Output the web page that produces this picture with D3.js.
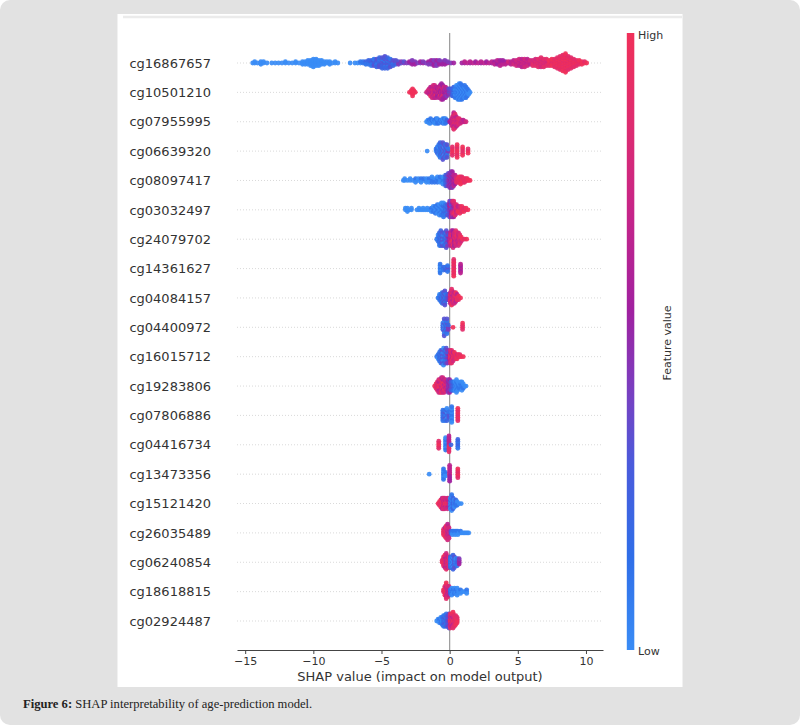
<!DOCTYPE html>
<html>
<head>
<meta charset="utf-8">
<script src="https://cdn.jsdelivr.net/npm/d3@7"></script>
<style>
  body { margin: 0; background: #fff; }
  text { font-family: "DejaVu Sans", sans-serif; fill: #333; }
  .caption { font-family: "Liberation Serif", serif; fill: #222; }
</style>
</head>
<body>
<svg id="chart"></svg>
<script>
// feature names, top to bottom
const features = [
  'cg16867657', 'cg10501210', 'cg07955995', 'cg06639320', 'cg08097417',
  'cg03032497', 'cg24079702', 'cg14361627', 'cg04084157', 'cg04400972',
  'cg16015712', 'cg19283806', 'cg07806886', 'cg04416734', 'cg13473356',
  'cg15121420', 'cg26035489', 'cg06240854', 'cg18618815', 'cg02924487'
];

// each entry: [SHAP value, feature values of the stacked points (digit 0..9 = low..high)]
const cg16867657 = [
  [-14.45, '0'], [-14.3, '00'], [-14.1, '0'], [-13.85, '000'], [-13.65, '00'], [-13.4, '0'],
  [-13.05, '0'], [-12.8, '0'], [-12.55, '0'], [-12.3, '0'], [-12.05, '00'], [-11.8, '0'],
  [-11.55, '0'], [-11.3, '00'], [-11.05, '0'], [-10.8, '000'], [-10.6, '000'], [-10.4, '0000'],
  [-10.2, '00000'], [-10.0, '0000000'], [-9.8, '000000'], [-9.6, '00000'], [-9.4, '0000'],
  [-9.2, '000'], [-9.0, '00'], [-8.8, '000'], [-8.6, '0'], [-8.4, '00'], [-8.2, '0'],
  [-7.3, '0'],
  [-6.95, '0'], [-6.75, '0'], [-6.55, '01'], [-6.35, '11'], [-6.15, '121'], [-5.95, '2112'],
  [-5.75, '23121'], [-5.55, '132231'], [-5.35, '2312132'], [-5.15, '31223132'],
  [-4.95, '213321232'], [-4.75, '3221331223'], [-4.55, '232133122'], [-4.35, '3123213'],
  [-4.15, '23132'], [-3.95, '3423'], [-3.75, '434'], [-3.55, '34'], [-3.35, '43'], [-3.15, '4'],
  [-2.95, '45'], [-2.75, '4554'], [-2.55, '545'], [-2.35, '4'], [-2.15, '45'], [-1.95, '54'],
  [-1.75, '4'], [-1.55, '454'], [-1.35, '5445'], [-1.15, '45545'], [-0.95, '54454'],
  [-0.75, '4554'], [-0.55, '545'], [-0.35, '4554'], [-0.15, '54'], [0.1, '4'], [0.3, '5'],
  [0.9, '5'], [1.1, '56'], [1.3, '6'], [1.5, '56'], [1.7, '6'], [1.9, '65'], [2.1, '6'],
  [2.3, '56'], [2.5, '6'], [2.7, '65'], [2.9, '6'], [3.1, '56'], [3.3, '656'], [3.5, '6556'],
  [3.7, '66556'], [3.9, '6565'], [4.1, '656'], [4.3, '67'], [4.5, '766'], [4.7, '6776'],
  [4.9, '76677'], [5.1, '677667'], [5.3, '7667766'], [5.5, '6776677'], [5.7, '766776'],
  [5.9, '7767'], [6.1, '78878'], [6.3, '877887'], [6.5, '7887788'], [6.7, '87788778'],
  [6.9, '7887788'], [7.1, '887788'], [7.3, '88998'], [7.5, '898899'], [7.7, '9889988'],
  [7.9, '899889988'], [8.1, '98899889988'], [8.3, '9988998899889'], [8.5, '899889988998899'],
  [8.7, '98899889988'], [8.9, '899889988'], [9.1, '9889988'], [9.3, '89988'], [9.5, '9889'],
  [9.7, '899'], [9.9, '98'], [10.05, '9']
];
const cg10501210 = [
  [-2.95, '9'], [-2.82, '99'], [-2.72, '99999'], [-2.62, '99'], [-2.52, '9'],
  [-1.7, '7'], [-1.6, '67'], [-1.5, '7667'], [-1.4, '676796'], [-1.3, '7667767'],
  [-1.2, '67886677'], [-1.1, '76677667'], [-1.0, '5667966'], [-0.9, '676556'], [-0.8, '5677566'],
  [-0.7, '65569766'], [-0.6, '7665577665'], [-0.5, '566796655'], [-0.4, '6556775'],
  [-0.3, '5654465'], [-0.2, '45664'], [-0.1, '4554'], [0.0, '3443'], [0.1, '3443'],
  [0.2, '23322'], [0.3, '121122'], [0.4, '0110011'], [0.5, '01100110'], [0.6, '011001100'],
  [0.7, '1001100110'], [0.8, '0110011001'], [0.9, '100110011'], [1.0, '0110011'],
  [1.1, '10011001'], [1.2, '0110011'], [1.3, '10011'], [1.4, '010'], [1.5, '0']
];
const cg07955995 = [
  [-1.7, '0'], [-1.6, '00'], [-1.5, '010'], [-1.4, '1001'], [-1.3, '01'], [-1.2, '10'],
  [-1.1, '010'], [-1.0, '1001'], [-0.9, '0110'], [-0.8, '101'], [-0.7, '01'], [-0.6, '10'],
  [-0.5, '0110'], [-0.4, '1001'], [-0.3, '0110'], [-0.2, '12'],
  [0.0, '5'], [0.1, '565'], [0.2, '6776677'], [0.3, '677886677886'], [0.4, '7688776688'],
  [0.5, '6778866'], [0.6, '76887'], [0.7, '6788'], [0.8, '787'], [0.9, '67'], [1.0, '76'],
  [1.1, '6'], [1.2, '7']
];
const cg06639320 = [
  [-1.65, '0'], [-1.0, '01'], [-0.9, '1221'], [-0.8, '011001'], [-0.7, '21122112'],
  [-0.6, '12211'], [-0.5, '311331133'], [-0.4, '0330033'], [-0.3, '3113311'], [-0.2, '1331133'],
  [-0.1, '41'], [0.2, '89988'], [0.55, '8998899'], [0.95, '98899'], [1.35, '989']
];
const cg08097417 = [
  [-3.4, '0'], [-3.3, '00'], [-3.1, '0'], [-2.9, '00'], [-2.7, '0'], [-2.5, '010'], [-2.3, '00'],
  [-2.1, '010'], [-1.9, '01'], [-1.7, '100'], [-1.5, '010'], [-1.3, '0110'], [-1.1, '101'],
  [-0.9, '0110'], [-0.7, '1001'], [-0.5, '01100'], [-0.3, '1221122'], [-0.2, '2332233'],
  [-0.1, '34433443'], [0.0, '455445544'], [0.1, '5445544554'], [0.2, '4554455445'],
  [0.3, '5665566'], [0.4, '656656'], [0.5, '7887'], [0.6, '898'], [0.7, '9889'], [0.8, '98899'],
  [0.9, '8998'], [1.0, '989'], [1.1, '898'], [1.2, '98'], [1.3, '89'], [1.4, '9'], [1.5, '9']
];
const cg03032497 = [
  [-3.25, '00'], [-3.1, '000'], [-2.95, '0'], [-2.8, '00'], [-2.4, '0'], [-2.25, '00'],
  [-2.1, '0'], [-1.95, '00'], [-1.8, '0'], [-1.65, '00'], [-1.5, '0'], [-1.35, '010'],
  [-1.2, '0110'], [-1.05, '10011'], [-0.9, '011001'], [-0.75, '1001100'], [-0.6, '01100110'],
  [-0.45, '101221101'], [-0.3, '2112211'], [-0.15, '1331133'], [0.0, '3545353534'],
  [0.1, '4356535463'], [0.2, '5364736547'], [0.3, '6475869758'], [0.4, '5786978'],
  [0.5, '786978'], [0.6, '8796'], [0.75, '97979'], [0.9, '8989'], [1.05, '989'], [1.2, '89'],
  [1.35, '9']
];
const cg24079702 = [
  [-0.95, '1'], [-0.85, '0110'], [-0.75, '1221121'], [-0.65, '21122112'], [-0.55, '1331133'],
  [-0.45, '0330033'], [-0.35, '1221122'], [-0.25, '311331133'], [-0.15, '2442244'],
  [-0.05, '3553'], [0.05, '7667766'], [0.15, '67998866'], [0.25, '869576957'], [0.35, '6857675'],
  [0.45, '97788778'], [0.55, '786978'], [0.65, '6776677'], [0.75, '98788'], [0.85, '797'],
  [0.95, '9'], [1.1, '8'], [1.25, '9']
];
const cg14361627 = [
  [-0.7, '0110011'], [-0.45, '121'], [-0.3, '212'], [-0.15, '13311'], [0.3, '989889988998'],
  [0.8, '5665566']
];
const cg04084157 = [
  [-0.85, '1'], [-0.75, '0110'], [-0.65, '12211'], [-0.55, '2112211'], [-0.45, '1331133'],
  [-0.35, '311331133'], [-0.25, '1221'], [-0.15, '2332'], [-0.05, '3443'], [0.05, '9669966'],
  [0.15, '8796698798'], [0.25, '6776677'], [0.35, '9778967'], [0.45, '897769'], [0.55, '7996'],
  [0.65, '898'], [0.8, '9']
];
const cg04400972 = [
  [-0.5, '1221'], [-0.4, '300330033'], [-0.3, '12211'], [-0.2, '31133113'], [-0.1, '424'],
  [0.25, '9'], [0.95, '9889']
];
const cg16015712 = [
  [-0.95, '1'], [-0.85, '010'], [-0.75, '12211'], [-0.65, '2112211'], [-0.55, '1331133'],
  [-0.45, '033003300'], [-0.35, '1221122'], [-0.25, '21331133'], [-0.15, '2442244'],
  [-0.05, '3553'], [0.05, '8996677'], [0.15, '9669988'], [0.25, '79967'], [0.35, '9779'],
  [0.45, '898'], [0.55, '979'], [0.65, '89'], [0.75, '98'], [0.85, '9'], [1.0, '9']
];
const cg19283806 = [
  [-1.1, '9'], [-1.0, '898'], [-0.9, '97788'], [-0.8, '8996677'], [-0.7, '7896687'],
  [-0.6, '69778896'], [-0.5, '78996677'], [-0.4, '8679967'], [-0.3, '786687'], [-0.2, '67766'],
  [-0.1, '5445544'], [0.0, '4554455'], [0.1, '34433'], [0.2, '23322'], [0.3, '12211'],
  [0.4, '01100'], [0.5, '1001100'], [0.6, '01100'], [0.7, '101'], [0.8, '0110'], [0.9, '01100'],
  [1.0, '101'], [1.1, '0'], [1.2, '0']
];
const cg07806886 = [
  [-0.5, '2112211'], [-0.35, '3113311'], [-0.2, '02200220'], [-0.05, '1331'],
  [0.15, '0110011001'], [0.6, '98899889']
];
const cg04416734 = [
  [-0.8, '89988'], [-0.3, '01100110'], [-0.05, '7686868686'], [0.1, '2'], [0.6, '122112']
];
const cg13473356 = [
  [-1.5, '0'], [-0.45, '0110011'], [-0.3, '010'], [0.0, '9656565656'], [0.6, '989889']
];
const cg15121420 = [
  [-0.85, '9'], [-0.75, '898'], [-0.65, '98899'], [-0.55, '7998866'], [-0.45, '9667788'],
  [-0.35, '8996677'], [-0.25, '78877'], [-0.15, '8996677'], [-0.05, '677667'], [0.05, '3003300'],
  [0.15, '0110011001'], [0.25, '1221122'], [0.35, '01100'], [0.45, '2112'], [0.55, '101'],
  [0.7, '0'], [0.85, '0']
];
const cg26035489 = [
  [-0.45, '8998'], [-0.35, '978996'], [-0.25, '69977889'], [-0.15, '7667788776'],
  [-0.05, '6776677'], [0.1, '23'], [0.2, '010'], [0.3, '01'], [0.4, '010'], [0.5, '01'],
  [0.6, '010'], [0.7, '0'], [0.8, '01'], [0.9, '0'], [1.0, '0'], [1.1, '0'], [1.2, '0'],
  [1.3, '0'], [1.4, '0']
];
const cg06240854 = [
  [-0.55, '98'], [-0.45, '899889'], [-0.35, '97788669'], [-0.25, '8667766887'],
  [-0.15, '9778866'], [-0.05, '7887788'], [0.05, '1221122'], [0.15, '0110011'],
  [0.25, '200220022'], [0.35, '1331133'], [0.45, '0110'], [0.55, '12211'], [0.7, '4554']
];
const cg18618815 = [
  [-0.45, '89'], [-0.35, '988998'], [-0.25, '8997766889'], [-0.15, '7667788'],
  [-0.05, '677667'], [0.05, '212'], [0.15, '01100'], [0.25, '010'], [0.35, '0110'],
  [0.45, '010'], [0.55, '01100'], [0.65, '0'], [0.8, '010'], [0.95, '0'], [1.1, '0'],
  [1.25, '010']
];
const cg02924487 = [
  [-0.95, '0'], [-0.85, '00'], [-0.75, '010'], [-0.65, '0110'], [-0.55, '10011'],
  [-0.45, '2112211'], [-0.35, '3113311'], [-0.25, '12211221'], [-0.15, '2332233'],
  [-0.05, '344334433'], [0.05, '899667788'], [0.15, '97788669'], [0.25, '8996677889'],
  [0.35, '7887788'], [0.45, '988998'], [0.55, '8998']
];

const rows = [
  cg16867657, cg10501210, cg07955995, cg06639320, cg08097417,
  cg03032497, cg24079702, cg14361627, cg04084157, cg04400972,
  cg16015712, cg19283806, cg07806886, cg04416734, cg13473356,
  cg15121420, cg26035489, cg06240854, cg18618815, cg02924487
];

const xDomain = [-15.6, 11.25];
const xTicks = [-15, -10, -5, 0, 5, 10];

// colour map, low -> high feature value
const colorStops = [0, 0.15, 0.3, 0.42, 0.55, 0.7, 0.85, 1];
const colorRange = ['#3a8cf5', '#2f6ee8', '#4a5bdc', '#7a3fc0', '#a021a0', '#c4248a', '#de2c70', '#f0305a'];

class Beeswarm {
  #svg;

  constructor(id, width, height) {
    this.#svg = d3.select('#' + id)
      .attr('width', width)
      .attr('height', height);
  }

  drawBackground(width, height) {
    this.#svg.append('rect')
      .attr('width', width)
      .attr('height', height)
      .attr('rx', 10)
      .attr('fill', '#e2e2e2');
    this.#svg.append('rect')
      .attr('x', 117.5)
      .attr('y', 14)
      .attr('width', 565)
      .attr('height', 673)
      .attr('fill', '#fff');
    this.#svg.append('line')
      .attr('x1', 123).attr('x2', 682)
      .attr('y1', 17).attr('y2', 17)
      .attr('stroke', '#ebebeb')
      .attr('stroke-width', 2.5);
  }

  drawGrid(x, y) {
    this.#svg.append('g')
      .selectAll('line')
      .data(features)
      .enter()
      .append('line')
      .attr('x1', x.range()[0])
      .attr('x2', x.range()[1])
      .attr('y1', function(f) { return y(f); })
      .attr('y2', function(f) { return y(f); })
      .attr('stroke', '#cfcfcf')
      .attr('stroke-width', 0.8)
      .attr('stroke-dasharray', '1,2');

    this.#svg.append('line')
      .attr('x1', x(0)).attr('x2', x(0))
      .attr('y1', 33).attr('y2', 650)
      .attr('stroke', '#9a9a9a')
      .attr('stroke-width', 1.2);
  }

  drawXAxis(originY, scale) {
    const g = this.#svg.append('g')
      .attr('class', 'x axis')
      .attr('transform', 'translate(0, ' + originY + ')')
      .call(d3.axisBottom(scale).tickValues(xTicks).tickSize(4).tickSizeOuter(0).tickPadding(3));
    g.select('.domain').attr('stroke', '#444');
    g.selectAll('.tick line').attr('stroke', '#444');
    g.selectAll('.tick text')
      .attr('font-family', '"DejaVu Sans", sans-serif')
      .attr('font-size', 11)
      .attr('fill', '#333');

    this.#svg.append('text')
      .attr('x', (scale.range()[0] + scale.range()[1]) / 2)
      .attr('y', 681)
      .attr('text-anchor', 'middle')
      .attr('font-size', 13)
      .text('SHAP value (impact on model output)');
  }

  drawLabels(y) {
    this.#svg.append('g')
      .selectAll('text')
      .data(features)
      .enter()
      .append('text')
      .attr('x', 211)
      .attr('y', function(f) { return y(f); })
      .attr('dy', '0.36em')
      .attr('text-anchor', 'end')
      .attr('font-size', 13)
      .text(function(f) { return f; });
  }

  drawDots(x, y, color) {
    const step = y.step();
    const points = rows.flatMap(function(cols, i) {
      // stack points of one column around the row line, like the shap layout
      const maxN = d3.max(cols, function(c) { return c[1].length; });
      const k = 0.36 * step / (Math.ceil((maxN - 1) / 2) + 1);
      return cols.flatMap(function(c) {
        return Array.from(c[1], function(ch, layer) {
          const ys = Math.ceil(layer / 2) * (layer % 2 ? 1 : -1);
          return { x: c[0], y: y(features[i]) - ys * k, v: +ch / 9 };
        });
      });
    });

    this.#svg.append('g')
      .selectAll('circle')
      .data(points)
      .enter()
      .append('circle')
      .attr('cx', function(p) { return x(p.x); })
      .attr('cy', function(p) { return p.y; })
      .attr('r', 2.4)
      .attr('fill', function(p) { return color(p.v); })
      .attr('fill-opacity', 0.92);
  }

  drawColorBar(color) {
    const grad = this.#svg.append('defs')
      .append('linearGradient')
      .attr('id', 'cbar')
      .attr('x1', 0).attr('y1', 1)
      .attr('x2', 0).attr('y2', 0);
    grad.selectAll('stop')
      .data(d3.range(0, 1.001, 0.05))
      .enter()
      .append('stop')
      .attr('offset', function(t) { return t; })
      .attr('stop-color', function(t) { return color(t); });

    this.#svg.append('rect')
      .attr('x', 626.8)
      .attr('y', 33)
      .attr('width', 7.5)
      .attr('height', 617)
      .attr('fill', 'url(#cbar)');

    this.#svg.append('text').attr('x', 638).attr('y', 38.5).attr('font-size', 11).text('High');
    this.#svg.append('text').attr('x', 638).attr('y', 655).attr('font-size', 11).text('Low');
    this.#svg.append('text')
      .attr('transform', 'translate(671, 343) rotate(-90)')
      .attr('text-anchor', 'middle')
      .attr('font-size', 11)
      .text('Feature value');
  }

  drawCaption() {
    const t = this.#svg.append('text')
      .attr('class', 'caption')
      .attr('x', 23)
      .attr('y', 708)
      .attr('font-size', 12.6);
    t.append('tspan').attr('font-weight', 'bold').text('Figure 6:');
    t.append('tspan').text(' SHAP interpretability of age-prediction model.');
  }
}

const x = d3.scaleLinear().domain(xDomain).range([237, 603]);
const y = d3.scalePoint().domain(features).range([63, 621]);
const color = d3.scaleLinear().domain(colorStops).range(colorRange).interpolate(d3.interpolateRgb);

const chart = new Beeswarm('chart', 800, 725);
chart.drawBackground(800, 725);
chart.drawGrid(x, y);
chart.drawXAxis(650, x);
chart.drawLabels(y);
chart.drawDots(x, y, color);
chart.drawColorBar(color);
chart.drawCaption();
</script>
</body>
</html>
